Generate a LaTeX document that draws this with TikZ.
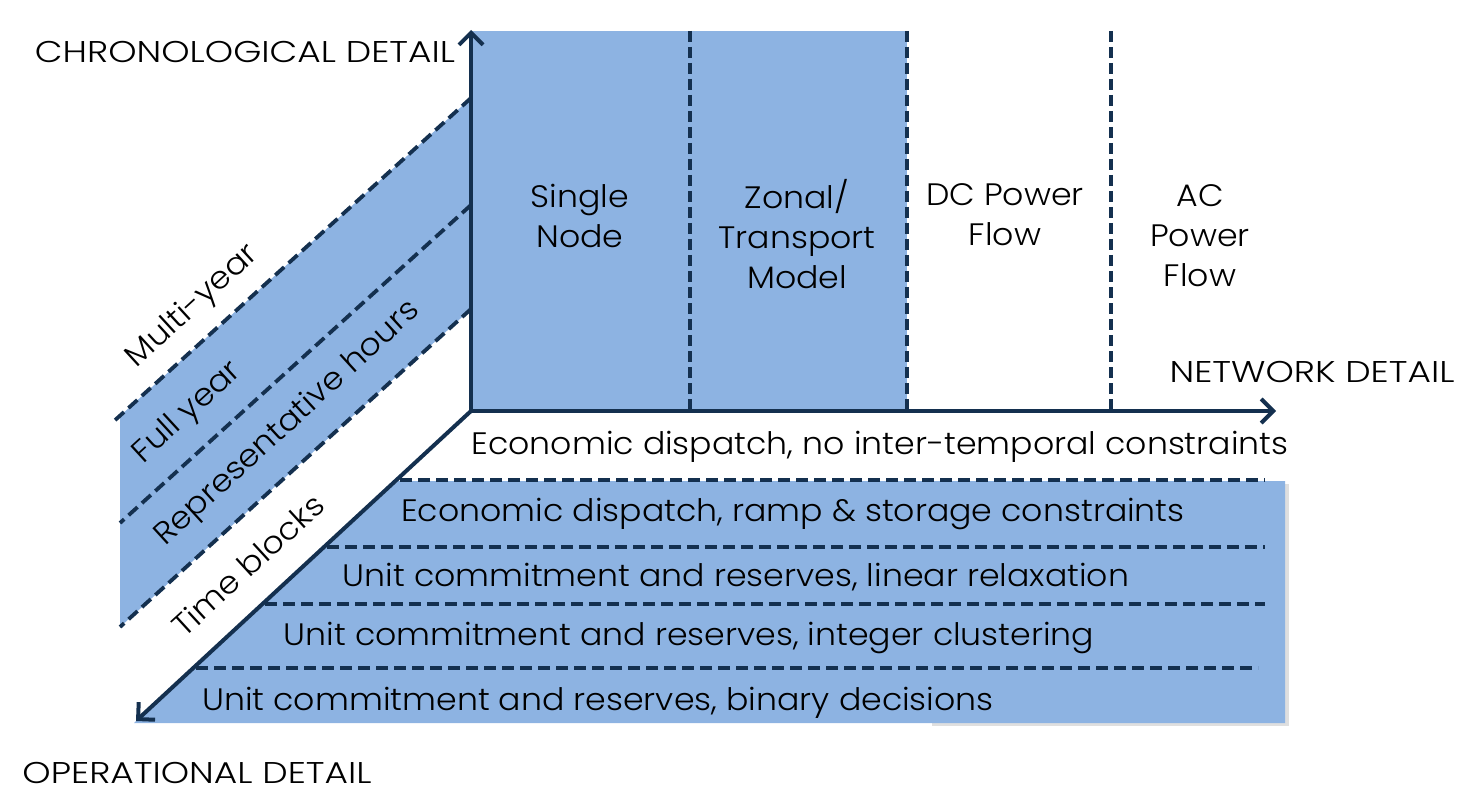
\documentclass[tikz,border=0pt]{standalone}
\usepackage{fontspec}
\setmainfont{Poppins}[UprightFont=* Light, FakeStretch=1.07]
\newfontfamily\capsfont{Poppins}[UprightFont=* Light, FakeStretch=1.2]
\usetikzlibrary{arrows.meta}
\definecolor{bandblue}{HTML}{8DB3E2}
\definecolor{navy}{HTML}{14304F}
\tikzset{
  axisline/.style={draw=navy, line width=4pt, line cap=round, -{Straight Barb[length=12pt,width=24pt,line width=4pt]}},
  dashline/.style={draw=navy, line width=3.8pt, dash pattern=on 12pt off 6pt},
  vdash/.style={draw=navy, line width=3.8pt, dash pattern=on 11pt off 5pt},
  lbl/.style={font=\fontsize{31}{40}\selectfont, inner sep=0pt, align=center, text=black},
  axlbl/.style={font=\capsfont\fontsize{30}{34}\selectfont, inner sep=0pt, text=black},
  rlbl/.style={font=\fontsize{31}{34}\selectfont, inner sep=0pt, rotate=42.5, text=black}
}
\begin{document}
\begin{tikzpicture}[x=1pt,y=-1pt]
\useasboundingbox (0,0) rectangle (1477,810);
% coordinates
\coordinate (O) at (471,411);
\coordinate (Ytip) at (471,30);
\coordinate (Xtip) at (1276,411);
\coordinate (Ztip) at (136,721);
% shadow of bottom block
\fill[black!25, opacity=0.5] (932,726) rectangle (1289,484);
% fills
\fill[bandblue] (471,31) rectangle (907,411);
\fill[bandblue] (471,98) -- (120,416) -- (120,627) -- (471,309) -- cycle;
\fill[bandblue] (398,481) -- (1285,481) -- (1285,723) -- (134,723) -- cycle;
% vertical dashed separators
\coordinate (v1t) at (690,31); \coordinate (v1b) at (690,411);
\coordinate (v2t) at (907,31); \coordinate (v2b) at (907,411);
\coordinate (v3t) at (1111,31); \coordinate (v3b) at (1111,411);
\draw[vdash] (v1t) -- (v1b);
\draw[vdash] (v2t) -- (v2b);
\draw[vdash] (v3t) -- (v3b);
% diagonal band lines
\coordinate (d1a) at (471,98);  \coordinate (d1b) at (113,422);
\coordinate (d2a) at (471,205); \coordinate (d2b) at (120,523);
\coordinate (d3a) at (471,309); \coordinate (d3b) at (120,627);
\draw[dashline] (d1a) -- (d1b);
\draw[dashline] (d2a) -- (d2b);
\draw[dashline] (d3a) -- (d3b);
% horizontal dashed lines
\coordinate (h1a) at (400,480); \coordinate (h1b) at (1265,480);
\coordinate (h2a) at (327,547); \coordinate (h2b) at (1265,547);
\coordinate (h3a) at (265,604); \coordinate (h3b) at (1265,604);
\coordinate (h4a) at (196,668); \coordinate (h4b) at (1258,668);
\draw[dashline] (h1a) -- (h1b);
\draw[dashline] (h2a) -- (h2b);
\draw[dashline] (h3a) -- (h3b);
\draw[dashline] (h4a) -- (h4b);
% axes
\draw[axisline] (O) -- (Ytip);
\draw[axisline] (O) -- (Xtip);
\draw[axisline] (O) -- (Ztip);
% axis labels
\node[axlbl] (chrono) at (245,52) {CHRONOLOGICAL DETAIL};
\node[axlbl] (network) at (1312,372) {NETWORK DETAIL};
\node[axlbl] (oper) at (197,773) {OPERATIONAL DETAIL};
% network levels
\node[lbl] (single) at (580,216) {Single\\Node};
\node[lbl] (zonal) at (797,234) {Zonal/\\Transport\\Model};
\node[lbl] (dc) at (1005,215) {DC Power\\Flow};
\node[lbl] (ac) at (1200,236) {AC\\Power\\Flow};
% operational levels
\node[lbl] (op1) at (880,447) {Economic dispatch, no inter-temporal constraints};
\node[lbl] (op2) at (793,514) {Economic dispatch, ramp \& storage constraints};
\node[lbl] (op3) at (736,577) {Unit commitment and reserves, linear relaxation};
\node[lbl] (op4) at (689,638) {Unit commitment and reserves, integer clustering};
\node[lbl] (op5) at (598,703) {Unit commitment and reserves, binary decisions};
% chronological levels
\node[rlbl] (multi) at (193,307) {Multi-year};
\node[rlbl] (full) at (188,413) {Full year};
\node[rlbl] (rep) at (288,424) {Representative hours};
\node[rlbl] (time) at (248,565) {Time blocks};
\end{tikzpicture}
\end{document}
